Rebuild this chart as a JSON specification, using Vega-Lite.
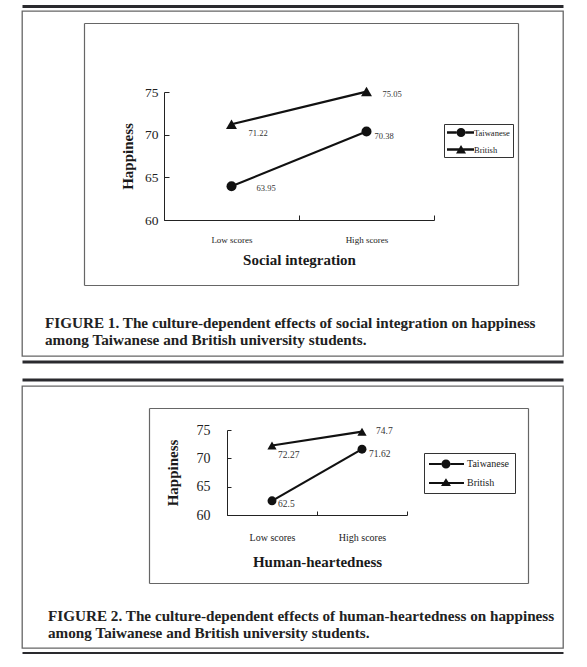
{
  "$schema": "https://vega.github.io/schema/vega-lite/v6.json",
  "background": "white",
  "padding": {"left": 21, "top": 5, "right": 0, "bottom": 0},
  "spacing": 15,
  "resolve": {"scale": {"shape": "independent"}, "legend": {"shape": "independent"}},
  "config": {
    "font": "Liberation Serif",
    "view": {"stroke": "#666", "strokeWidth": 1.3},
    "axis": {"grid": false, "domainColor": "#222", "tickColor": "#222", "labelColor": "#222", "titleColor": "#1a1a1a", "labelFont": "Liberation Serif", "titleFont": "Liberation Serif", "titleFontWeight": "bold", "titleFontSize": 15}
  },
  "vconcat": [
    {
      "width": 541,
      "height": 345,
      "title": {"text": ["FIGURE 1. The culture-dependent effects of social integration on happiness", "among Taiwanese and British university students."], "orient": "bottom", "anchor": "start", "frame": "group", "offset": -45.5, "dx": 23, "font": "Liberation Serif", "fontSize": 15.2, "fontWeight": "bold", "lineHeight": 16.5, "color": "#222"},
      "data": {"values": [
        {"level": "Low scores", "culture": "Taiwanese", "happiness": 63.95},
        {"level": "High scores", "culture": "Taiwanese", "happiness": 70.38},
        {"level": "Low scores", "culture": "British", "happiness": 71.22},
        {"level": "High scores", "culture": "British", "happiness": 75.05}
      ]},
      "resolve": {"scale": {"x": "independent", "y": "independent"}, "axis": {"x": "independent", "y": "independent"}},
      "layer": [
        {
          "encoding": {
            "x": {"field": "level", "type": "nominal", "sort": ["Low scores", "High scores"],
                  "scale": {"range": [142, 412], "paddingInner": 0, "paddingOuter": 0},
                  "axis": {"orient": "bottom", "title": "Social integration", "offset": -136, "labelAngle": 0, "tickBand": "extent", "tickSize": -5, "labelPadding": 20, "labelFontSize": 9, "titlePadding": 8}},
            "y": {"field": "happiness", "type": "quantitative",
                  "scale": {"domain": [60, 75], "range": [209, 81], "zero": false, "nice": false},
                  "axis": {"orient": "left", "title": "Happiness", "offset": -142, "values": [60, 65, 70, 75], "tickSize": -5, "labelPadding": 11, "labelFontSize": 13.5, "titlePadding": 9}}
          },
          "layer": [
            {"mark": {"type": "line", "color": "#111", "strokeWidth": 2.2}, "encoding": {"detail": {"field": "culture"}}},
            {"transform": [{"filter": "datum.culture === 'Taiwanese'"}],
             "mark": {"type": "point", "shape": "circle", "filled": true, "color": "#111", "opacity": 1, "size": 100}},
            {"transform": [{"filter": "datum.culture === 'British'"}],
             "mark": {"type": "point", "shape": "triangle-up", "filled": true, "color": "#111", "opacity": 1, "size": 120}},
            {"mark": {"type": "point", "filled": true, "color": "#111", "opacity": 0, "size": 121},
             "encoding": {"shape": {"field": "culture", "type": "nominal",
               "scale": {"domain": ["Taiwanese", "British"], "range": [
                 "M-1,-0.22H0.73V0.22H-1Z M2.37,-0.22H3.91V0.22H2.37Z M0.73,0A0.82,0.82 0 1,1 2.37,0A0.82,0.82 0 1,1 0.73,0Z",
                 "M-1,-0.22H3.91V0.22H-1Z M1.55,-0.82L2.46,0.73L0.64,0.73Z"]},
               "legend": {"title": null, "orient": "none", "legendX": 422, "legendY": 113, "padding": 3, "strokeColor": "#333", "fillColor": "white",
                 "labelFont": "Liberation Serif", "labelFontSize": 8.5, "labelColor": "#222", "labelOffset": 16, "rowPadding": 6, "symbolSize": 121,
                 "symbolFillColor": "#111", "symbolStrokeWidth": 0, "symbolOpacity": 1}}}},
            {"transform": [{"filter": "datum.culture === 'Taiwanese' && datum.level === 'Low scores'"}],
             "mark": {"type": "text", "align": "left", "baseline": "middle", "dx": 25, "dy": 2, "fontSize": 8.5, "color": "#333"},
             "encoding": {"text": {"field": "happiness", "type": "nominal"}}},
            {"transform": [{"filter": "datum.culture === 'British' && datum.level === 'Low scores'"}],
             "mark": {"type": "text", "align": "left", "baseline": "middle", "dx": 17, "dy": 9, "fontSize": 8.5, "color": "#333"},
             "encoding": {"text": {"field": "happiness", "type": "nominal"}}},
            {"transform": [{"filter": "datum.culture === 'Taiwanese' && datum.level === 'High scores'"}],
             "mark": {"type": "text", "align": "left", "baseline": "middle", "dx": 8, "dy": 5, "fontSize": 8.5, "color": "#333"},
             "encoding": {"text": {"field": "happiness", "type": "nominal"}}},
            {"transform": [{"filter": "datum.culture === 'British' && datum.level === 'High scores'"}],
             "mark": {"type": "text", "align": "left", "baseline": "middle", "dx": 16, "dy": 2, "fontSize": 8.5, "color": "#333"},
             "encoding": {"text": {"field": "happiness", "type": "nominal"}}}
          ]
        },
        {"mark": {"type": "point", "opacity": 0},
         "encoding": {
           "x": {"field": "level", "type": "nominal", "scale": {"range": [62, 496]}, "axis": {"orient": "top", "offset": -12, "ticks": false, "labels": false, "title": null, "domainColor": "#666", "domainWidth": 1.2}},
           "y": {"field": "happiness", "type": "quantitative", "scale": {"range": [274, 12]}, "axis": {"orient": "left", "offset": -62, "ticks": false, "labels": false, "title": null, "domainColor": "#666", "domainWidth": 1.2}}}},
        {"mark": {"type": "point", "opacity": 0},
         "encoding": {
           "x": {"field": "level", "type": "nominal", "scale": {"range": [62, 496]}, "axis": {"orient": "bottom", "offset": -71, "ticks": false, "labels": false, "title": null, "domainColor": "#666", "domainWidth": 1.2}},
           "y": {"field": "happiness", "type": "quantitative", "scale": {"range": [274, 12]}, "axis": {"orient": "right", "offset": -45, "ticks": false, "labels": false, "title": null, "domainColor": "#666", "domainWidth": 1.2}}}},
        {"mark": {"type": "point", "opacity": 0},
         "encoding": {
           "x": {"field": "level", "type": "nominal", "scale": {"range": [0, 541]}, "axis": {"orient": "top", "offset": 5, "ticks": false, "labels": false, "title": null, "domainColor": "#2a2a2e", "domainWidth": 3}},
           "y": {"field": "happiness", "type": "quantitative", "axis": null}}},
        {"mark": {"type": "point", "opacity": 0},
         "encoding": {
           "x": {"field": "level", "type": "nominal", "scale": {"range": [0, 541]}, "axis": {"orient": "bottom", "offset": 5.5, "ticks": false, "labels": false, "title": null, "domainColor": "#2a2a2e", "domainWidth": 3}},
           "y": {"field": "happiness", "type": "quantitative", "axis": null}}}
      ]
    },
    {
      "width": 541,
      "height": 262,
      "title": {"text": ["FIGURE 2. The culture-dependent effects of human-heartedness on happiness", "among Taiwanese and British university students."], "orient": "bottom", "anchor": "start", "frame": "group", "offset": -44, "dx": 26, "font": "Liberation Serif", "fontSize": 15.2, "fontWeight": "bold", "lineHeight": 16.5, "color": "#222"},
      "data": {"values": [
        {"level": "Low scores", "culture": "Taiwanese", "happiness": 62.5},
        {"level": "High scores", "culture": "Taiwanese", "happiness": 71.62},
        {"level": "Low scores", "culture": "British", "happiness": 72.27},
        {"level": "High scores", "culture": "British", "happiness": 74.7}
      ]},
      "resolve": {"scale": {"x": "independent", "y": "independent"}, "axis": {"x": "independent", "y": "independent"}},
      "layer": [
        {
          "encoding": {
            "x": {"field": "level", "type": "nominal", "sort": ["Low scores", "High scores"],
                  "scale": {"range": [205, 385], "paddingInner": 0, "paddingOuter": 0},
                  "axis": {"orient": "bottom", "title": "Human-heartedness", "offset": -133, "labelAngle": 0, "tickBand": "extent", "tickSize": -4, "labelPadding": 21, "labelFontSize": 10, "titlePadding": 12}},
            "y": {"field": "happiness", "type": "quantitative",
                  "scale": {"domain": [60, 75], "range": [129, 44], "zero": false, "nice": false},
                  "axis": {"orient": "left", "title": "Happiness", "offset": -205, "values": [60, 65, 70, 75], "tickSize": -4, "labelPadding": 21, "labelFontSize": 14, "titlePadding": 16}}
          },
          "layer": [
            {"mark": {"type": "line", "color": "#111", "strokeWidth": 2.2}, "encoding": {"detail": {"field": "culture"}}},
            {"transform": [{"filter": "datum.culture === 'Taiwanese'"}],
             "mark": {"type": "point", "shape": "circle", "filled": true, "color": "#111", "opacity": 1, "size": 80}},
            {"transform": [{"filter": "datum.culture === 'British'"}],
             "mark": {"type": "point", "shape": "triangle-up", "filled": true, "color": "#111", "opacity": 1, "size": 85}},
            {"mark": {"type": "point", "filled": true, "color": "#111", "opacity": 0, "size": 144},
             "encoding": {"shape": {"field": "culture", "type": "nominal",
               "scale": {"domain": ["Taiwanese", "British"], "range": [
                 "M-1,-0.17H1.08V0.17H-1Z M2.58,-0.17H4.83V0.17H2.58Z M1.08,0A0.75,0.75 0 1,1 2.58,0A0.75,0.75 0 1,1 1.08,0Z",
                 "M-1,-0.17H4.83V0.17H-1Z M1.83,-0.8L2.66,0.5L1,0.5Z"]},
               "legend": {"title": null, "orient": "none", "legendX": 402, "legendY": 67, "padding": 5, "strokeColor": "#333", "fillColor": "white",
                 "labelFont": "Liberation Serif", "labelFontSize": 10, "labelColor": "#222", "labelOffset": 26, "rowPadding": 8, "symbolSize": 144,
                 "symbolFillColor": "#111", "symbolStrokeWidth": 0, "symbolOpacity": 1}}}},
            {"transform": [{"filter": "datum.culture === 'Taiwanese' && datum.level === 'Low scores'"}],
             "mark": {"type": "text", "align": "left", "baseline": "middle", "dx": 6, "dy": 3, "fontSize": 9.5, "color": "#333"},
             "encoding": {"text": {"field": "happiness", "type": "nominal"}}},
            {"transform": [{"filter": "datum.culture === 'British' && datum.level === 'Low scores'"}],
             "mark": {"type": "text", "align": "left", "baseline": "middle", "dx": 6, "dy": 10, "fontSize": 9.5, "color": "#333"},
             "encoding": {"text": {"field": "happiness", "type": "nominal"}}},
            {"transform": [{"filter": "datum.culture === 'Taiwanese' && datum.level === 'High scores'"}],
             "mark": {"type": "text", "align": "left", "baseline": "middle", "dx": 7, "dy": 5, "fontSize": 9.5, "color": "#333"},
             "encoding": {"text": {"field": "happiness", "type": "nominal"}}},
            {"transform": [{"filter": "datum.culture === 'British' && datum.level === 'High scores'"}],
             "mark": {"type": "text", "align": "left", "baseline": "middle", "dx": 14, "dy": -1, "fontSize": 9.5, "color": "#333"},
             "encoding": {"text": {"field": "happiness", "type": "nominal"}}}
          ]
        },
        {"mark": {"type": "point", "opacity": 0},
         "encoding": {
           "x": {"field": "level", "type": "nominal", "scale": {"range": [127, 506]}, "axis": {"orient": "top", "offset": -22, "ticks": false, "labels": false, "title": null, "domainColor": "#666", "domainWidth": 1.2}},
           "y": {"field": "happiness", "type": "quantitative", "scale": {"range": [197, 22]}, "axis": {"orient": "left", "offset": -127, "ticks": false, "labels": false, "title": null, "domainColor": "#666", "domainWidth": 1.2}}}},
        {"mark": {"type": "point", "opacity": 0},
         "encoding": {
           "x": {"field": "level", "type": "nominal", "scale": {"range": [127, 506]}, "axis": {"orient": "bottom", "offset": -65, "ticks": false, "labels": false, "title": null, "domainColor": "#666", "domainWidth": 1.2}},
           "y": {"field": "happiness", "type": "quantitative", "scale": {"range": [197, 22]}, "axis": {"orient": "right", "offset": -35, "ticks": false, "labels": false, "title": null, "domainColor": "#666", "domainWidth": 1.2}}}},
        {"mark": {"type": "point", "opacity": 0},
         "encoding": {
           "x": {"field": "level", "type": "nominal", "scale": {"range": [0, 541]}, "axis": {"orient": "top", "offset": 6.5, "ticks": false, "labels": false, "title": null, "domainColor": "#2a2a2e", "domainWidth": 3}},
           "y": {"field": "happiness", "type": "quantitative", "axis": null}}},
        {"mark": {"type": "point", "opacity": 0},
         "encoding": {
           "x": {"field": "level", "type": "nominal", "scale": {"range": [0, 541]}, "axis": {"orient": "bottom", "offset": 5, "ticks": false, "labels": false, "title": null, "domainColor": "#2a2a2e", "domainWidth": 3}},
           "y": {"field": "happiness", "type": "quantitative", "axis": null}}}
      ]
    }
  ]
}
